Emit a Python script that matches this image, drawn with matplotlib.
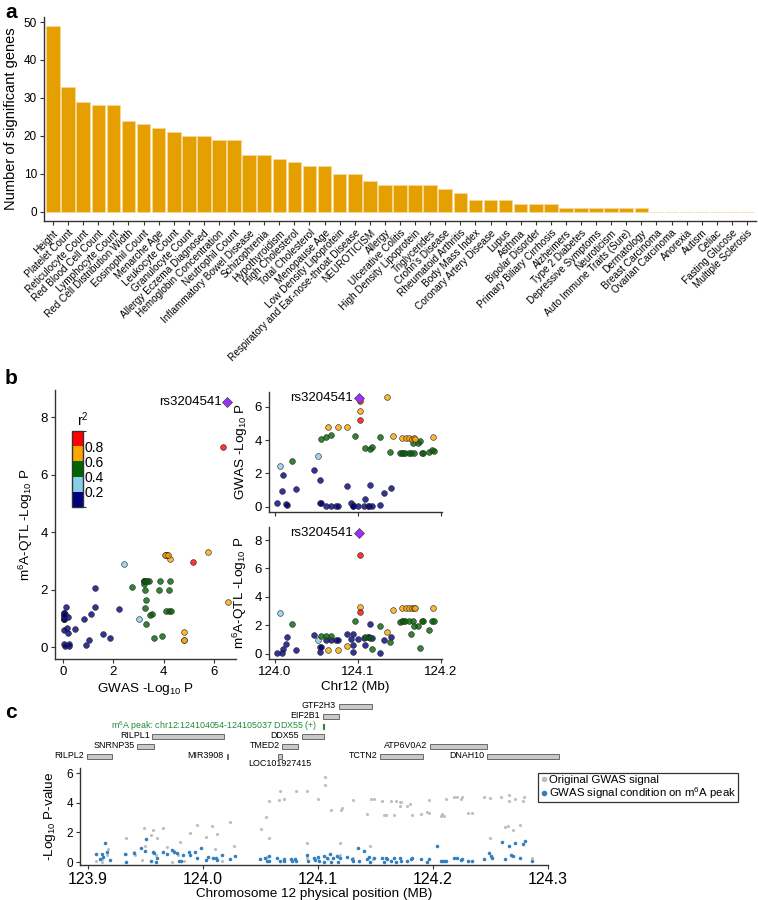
import matplotlib
matplotlib.use('Agg')
import matplotlib.pyplot as plt
import numpy as np
from matplotlib.colors import ListedColormap, BoundaryNorm, to_rgba
from matplotlib.cm import ScalarMappable
from matplotlib.lines import Line2D

plt.rcParams['font.family'] = ['Liberation Sans', 'DejaVu Sans']
plt.rcParams['mathtext.fontset'] = 'custom'
plt.rcParams['mathtext.rm'] = 'Liberation Sans'
plt.rcParams['mathtext.it'] = 'Liberation Sans:italic'
plt.rcParams['mathtext.bf'] = 'Liberation Sans:bold'

# ---- panel a: genes per trait
traits = ['Height', 'Platelet Count', 'Reticulocyte Count', 'Red Blood Cell Count',
          'Lymphocyte Count', 'Red Cell Distribution Width', 'Eosinophil Count',
          'Menarche Age', 'Leukocyte Count', 'Granulocyte Count',
          'Allergy Eczema Diagnosed', 'Hemoglobin Concentration', 'Neutrophil Count',
          'Inflammatory Bowel Disease', 'Schizophrenia', 'Hypothyroidism',
          'High Cholesterol', 'Total Cholesterol', 'Menopause Age',
          'Low Density Lipoprotein', 'Respiratory and Ear-nose-throat Disease',
          'NEUROTICISM', 'Allergy', 'Ulcerative Colitis', 'High Density Lipoprotein',
          'Triglycerides', "Crohn's Disease", 'Rheumatoid Arthritis', 'Body Mass Index',
          'Coronary Artery Disease', 'Lupus', 'Asthma', 'Bipolar Disorder',
          'Primary Biliary Cirrhosis', 'Alzheimers', 'Type 2 Diabetes',
          'Depressive Symptoms', 'Neuroticism', 'Auto Immune Traits (Sure)',
          'Dermatology', 'Breast Carcinoma', 'Ovarian Carcinoma', 'Anorexia', 'Autism',
          'Celiac', 'Fasting Glucose', 'Multiple Sclerosis']
n_genes = [49, 33, 29, 28, 28, 24, 23, 22, 21, 20, 20, 19, 19, 15, 15, 14, 13, 12, 12,
           10, 10, 8, 7, 7, 7, 7, 6, 5, 3, 3, 3, 2, 2, 2, 1, 1, 1, 1, 1, 1,
           0, 0, 0, 0, 0, 0, 0]

# ---- panel b: SNPs around rs3204541 (position Mb, GWAS -log10P, m6A-QTL -log10P, r2 class)
snp_pos = [124.002, 124.006, 124.008, 124.010, 124.013, 124.014, 124.021, 124.025, 124.047,
           124.052, 124.054, 124.054, 124.055, 124.055, 124.061, 124.062, 124.064, 124.067,
           124.067, 124.073, 124.076, 124.076, 124.087, 124.087, 124.092, 124.094, 124.094,
           124.094, 124.096, 124.100, 124.102, 124.102, 124.102, 124.107, 124.108, 124.108,
           124.112, 124.113, 124.115, 124.115, 124.117, 124.117, 124.126, 124.126, 124.131,
           124.135, 124.138, 124.140, 124.142, 124.1506, 124.1526, 124.1526, 124.1546,
           124.1566, 124.1578, 124.1618, 124.1618, 124.1635, 124.1647, 124.166, 124.167,
           124.1675, 124.169, 124.172, 124.175, 124.177, 124.178, 124.185, 124.189, 124.191,
           124.192]
snp_gwas = [0.24, 2.42, 0.92, 1.88, 0.16, 0.08, 2.76, 1.04, 2.22, 3.02, 1.60, 0.24, 0.20,
            4.08, 0.04, 4.20, 4.80, 0.04, 4.30, 0.04, 0.04, 4.80, 4.80, 1.26, 0.20, 0.10,
            0.04, 0.04, 4.26, 0.04, 6.34, 5.76, 5.18, 0.04, 0.48, 3.54, 0.04, 0.04, 1.28,
            3.44, 3.60, 0.04, 4.20, 0.08, 0.84, 6.56, 3.28, 1.10, 4.24, 3.22, 3.22, 4.14,
            3.22, 3.20, 4.10, 4.10, 3.24, 3.24, 4.08, 3.84, 3.24, 4.10, 4.06, 3.80, 3.94,
            3.24, 3.24, 3.30, 3.40, 4.18, 3.32]
snp_qtl = [0.02, 2.89, 0.07, 0.30, 0.66, 1.15, 2.09, 0.26, 1.31, 0.96, 0.45, 0.12, 0.50,
           1.27, 0.96, 1.27, 0.26, 0.96, 1.27, 0.96, 0.96, 0.26, 0.54, 1.38, 1.06, 1.38,
           0.59, 0.12, 2.30, 1.06, 6.95, 3.29, 2.96, 1.13, 0.63, 1.15, 1.20, 1.20, 2.07,
           1.13, 0.30, 1.13, 1.97, 0.02, 0.96, 1.55, 0.80, 1.15, 3.05, 2.20, 2.30, 3.19,
           2.30, 2.30, 3.19, 3.19, 2.30, 1.36, 3.19, 2.30, 1.97, 3.19, 3.19, 1.97, 0.37,
           2.30, 2.30, 1.65, 2.30, 3.19, 2.30]
snp_r2 = [0, 1, 0, 0, 0, 0, 2, 0, 0, 1, 0, 0, 0, 2, 0, 2, 3, 0, 2, 0, 0, 3, 3, 0, 0, 0,
          0, 0, 2, 0, 4, 3, 4, 0, 0, 2, 0, 0, 0, 2, 2, 0, 2, 0, 0, 3, 2, 0, 3, 2, 2, 3,
          2, 2, 3, 3, 2, 2, 3, 2, 2, 3, 3, 2, 2, 2, 2, 2, 2, 3, 2]
lead_name = 'rs3204541'
lead_pos = 124.101
lead_gwas = 6.52
lead_qtl = 8.52
r2_colors = ['#000080', '#87CEEB', '#006400', '#FFA500', '#FF0000']
r2_bounds = [0, 0.2, 0.4, 0.6, 0.8, 1.0]

# ---- panel c: conditional analysis
genes = ['GTF2H3', 'EIF2B1', 'RILPL1', 'DDX55', 'SNRNP35', 'TMED2', 'ATP6V0A2',
         'RILPL2', 'MIR3908', 'TCTN2', 'DNAH10', 'LOC101927415']
gene_start = [124.118, 124.104, 123.956, 124.086, 123.943, 124.069, 124.197,
              123.899, 124.0205, 124.154, 124.247, 124.065]
gene_end = [124.147, 124.118, 124.018, 124.105, 123.957, 124.083, 124.247,
            123.921, 124.0215, 124.191, 124.310, 124.069]
gene_row = [0, 1, 3, 3, 4, 4, 4, 5, 5, 5, 5, 5]
peak_label = 'm$^6$A peak: chr12:124104054-124105037 DDX55 (+)'
peak_start = 124.104054
peak_end = 124.105037

orig_pos = [123.907, 123.912, 123.9125, 123.9166, 123.917, 123.9326, 123.9334, 123.9401,
            123.9407, 123.9465, 123.9488, 123.9497, 123.9544, 123.9561, 123.959, 123.9596,
            123.9654, 123.9683, 123.9727, 123.975, 123.9776, 123.9785, 123.98, 123.9834,
            123.9887, 123.9945, 124.0026, 124.0081, 124.0105, 124.0125, 124.0163, 124.0235,
            124.0273, 124.05, 124.0547, 124.0555, 124.057, 124.0578, 124.0657, 124.0666,
            124.07, 124.0805, 124.09, 124.0904, 124.0904, 124.0997, 124.1, 124.105,
            124.1058, 124.1058, 124.109, 124.1116, 124.117, 124.1189, 124.1195, 124.1198,
            124.1209, 124.13, 124.1305, 124.1398, 124.1427, 124.1451, 124.1465, 124.148,
            124.1485, 124.1558, 124.1573, 124.1587, 124.1631, 124.166, 124.1674, 124.1712,
            124.1712, 124.1724, 124.1776, 124.1797, 124.1814, 124.1898, 124.1951, 124.1965,
            124.1965, 124.2067, 124.2081, 124.2096, 124.211, 124.2183, 124.2212, 124.2241,
            124.2256, 124.23, 124.2343, 124.2445, 124.2497, 124.2497, 124.259, 124.2625,
            124.2648, 124.2657, 124.2657, 124.2692, 124.2715, 124.2759, 124.2779, 124.2794,
            124.286]
orig_y = [0.07, 0.02, 0.20, 0.47, 0.88, 0.52, 1.63, 0.65, 0.47, 0.14, 2.33, 1.08, 1.83,
          2.14, 0.47, 1.65, 2.33, 0.99, 0.02, 0.74, 0.59, 0.47, 1.38, 0.07, 1.94, 2.51,
          1.69, 2.42, 0.88, 1.87, 0.07, 2.73, 1.08, 2.21, 3.02, 0.36, 1.60, 4.09, 4.20,
          4.81, 4.27, 4.81, 0.29, 4.81, 1.26, 4.27, 0.29, 6.46, 5.73, 5.17, 0.20, 3.54,
          0.36, 1.26, 0.50, 3.52, 3.66, 0.29, 4.20, 6.57, 3.25, 1.08, 4.24, 0.20, 4.24,
          4.15, 3.21, 3.21, 4.11, 3.21, 4.11, 4.06, 3.81, 4.06, 3.81, 3.95, 3.21, 3.25,
          3.41, 4.20, 3.30, 3.12, 3.25, 3.12, 4.24, 4.40, 4.40, 4.27, 4.40, 3.30, 3.30,
          4.40, 4.33, 1.60, 4.36, 2.37, 2.42, 4.56, 4.09, 2.17, 4.27, 2.51, 4.11, 4.40,
          0.25]
cond_pos = [123.9067, 123.9108, 123.9125, 123.9131, 123.9148, 123.9169, 123.9195, 123.932,
            123.9334, 123.9401, 123.9459, 123.9494, 123.95, 123.9547, 123.9561, 123.9573,
            123.959, 123.9596, 123.9648, 123.9683, 123.9727, 123.9747, 123.977, 123.9794,
            123.9805, 123.9828, 123.9881, 123.9887, 123.993, 123.9945, 123.9983, 124.0026,
            124.0047, 124.0084, 124.0113, 124.0125, 124.0163, 124.0235, 124.0279, 124.0497,
            124.0541, 124.0555, 124.057, 124.0578, 124.0642, 124.0666, 124.07, 124.0706,
            124.0765, 124.077, 124.0802, 124.0811, 124.0904, 124.091, 124.0962, 124.0977,
            124.0997, 124.1006, 124.105, 124.1055, 124.1078, 124.1108, 124.1113, 124.1131,
            124.1166, 124.1174, 124.1195, 124.1253, 124.1297, 124.1305, 124.1346, 124.1352,
            124.1398, 124.1427, 124.1442, 124.1456, 124.1485, 124.1558, 124.1573, 124.1587,
            124.1602, 124.1637, 124.166, 124.1674, 124.1712, 124.1724, 124.1776, 124.1805,
            124.182, 124.1898, 124.1951, 124.1965, 124.2038, 124.2067, 124.2081, 124.2096,
            124.211, 124.2183, 124.2212, 124.2241, 124.2256, 124.23, 124.2343, 124.2445,
            124.2488, 124.2503, 124.2517, 124.2596, 124.2625, 124.2657, 124.2677, 124.2692,
            124.2715, 124.2759, 124.2779, 124.2799, 124.286]
cond_y = [0.56, 0.20, 0.52, 0.36, 1.26, 0.65, 0.14, 0.52, 0.00, 0.59, 0.93, 0.74, 1.56,
          0.07, 0.65, 0.59, 0.02, 0.29, 0.65, 0.56, 0.81, 0.65, 0.59, 0.07, 0.07, 0.47,
          0.65, 0.47, 0.65, 0.29, 0.93, 0.14, 0.36, 0.25, 0.29, 0.14, 0.47, 0.20, 0.43,
          0.20, 0.25, 0.07, 0.43, 0.07, 0.25, 0.07, 0.18, 0.07, 0.20, 0.07, 0.18, 0.07,
          0.47, 0.07, 0.25, 0.14, 0.36, 0.07, 0.43, 0.02, 0.29, 0.52, 0.02, 0.29, 0.43,
          0.02, 0.25, 0.36, 0.20, 0.07, 0.93, 0.07, 0.74, 0.20, 0.36, 0.02, 0.25, 0.25,
          0.02, 0.25, 0.20, 0.07, 0.25, 0.02, 0.25, 0.07, 0.07, 0.20, 0.25, 0.20, 0.02,
          0.20, 1.08, 0.07, 0.07, 0.07, 0.07, 0.25, 0.25, 0.14, 0.20, 0.07, 0.07, 0.20,
          0.59, 0.43, 0.25, 1.33, 0.20, 1.06, 0.47, 0.43, 1.31, 0.29, 1.22, 1.42, 0.07]

W, H = 758, 900
fig = plt.figure(figsize=(W / 100, H / 100), dpi=100)


def px_axes(x0, y0, x1, y1):
    return fig.add_axes([x0 / W, 1 - y1 / H, (x1 - x0) / W, (y1 - y0) / H])


def gg(ax, size=9):
    for s in ['top', 'right']:
        ax.spines[s].set_visible(False)
    for s in ['left', 'bottom']:
        ax.spines[s].set_color('#333333')
        ax.spines[s].set_linewidth(1.0)
    ax.tick_params(direction='out', length=3, width=0.8, color='#333333',
                   labelcolor='black', labelsize=size, pad=2)


# ---------------- panel a
axA = px_axes(44, 16.5, 756, 221)
gg(axA, 8.5)
axA.bar(np.arange(len(traits)), n_genes, width=0.9, color='#E69F00',
        edgecolor='#F5D99A', linewidth=0.5)
axA.set_xlim(-0.6, len(traits) - 0.4)
axA.set_ylim(-2.45, 51.45)
axA.set_yticks([0, 10, 20, 30, 40, 50])
axA.set_xticks(np.arange(len(traits)))
axA.set_xticklabels(traits, rotation=45, ha='right', rotation_mode='anchor', fontsize=7.2)
axA.set_ylabel('Number of significant genes', fontsize=10.5, labelpad=4)

# ---------------- panel b
pos = np.array(snp_pos)
gw = np.array(snp_gwas)
qt = np.array(snp_qtl)
cls = np.array(snp_r2)


def r2_scatter(ax, x, y):
    for k in range(5):
        m = cls == k
        ax.scatter(x[m], y[m], s=17, facecolor=to_rgba(r2_colors[k], 0.8),
                   edgecolor='#333333', linewidth=0.45, zorder=3)


def lead(ax, x, y):
    ax.scatter([x], [y], marker='D', s=26, facecolor='#9B30FF', edgecolor='#444444',
               linewidth=0.5, zorder=4)
    ax.annotate(lead_name, (x, y), xytext=(-4, 0), textcoords='offset points',
                ha='right', va='center', fontsize=9.5)


axL = px_axes(54.7, 389.7, 236.4, 659.4)
gg(axL, 9.5)
r2_scatter(axL, gw, qt)
lead(axL, lead_gwas, lead_qtl)
axL.set_xlim(-0.33, 6.89)
axL.set_ylim(-0.43, 8.95)
axL.set_xticks([0, 2, 4, 6])
axL.set_yticks([0, 2, 4, 6, 8])
axL.set_xlabel('GWAS -Log$_{10}$ P', fontsize=9.7, labelpad=2)
axL.set_ylabel('m$^6$A-QTL -Log$_{10}$ P', fontsize=9.7, labelpad=4)

cax = px_axes(72, 431, 83, 507)
sm = ScalarMappable(norm=BoundaryNorm(r2_bounds, 5), cmap=ListedColormap(r2_colors))
cb = fig.colorbar(sm, cax=cax, ticks=[0.2, 0.4, 0.6, 0.8])
cb.outline.set_edgecolor('#333333')
cb.outline.set_linewidth(1.0)
cax.tick_params(length=0, labelsize=10, pad=1)
cax.text(1.0, 1.03, 'r$^2$', transform=cax.transAxes, ha='center', va='bottom',
         fontsize=10)

axT = px_axes(268.8, 391.7, 442.2, 511.5)
gg(axT, 9.5)
r2_scatter(axT, pos, gw)
lead(axT, lead_pos, lead_gwas)
axT.set_xlim(123.9925, 124.2015)
axT.set_ylim(-0.29, 6.9)
axT.set_xticks([124.0, 124.1, 124.2])
axT.set_xticklabels([])
axT.set_yticks([0, 2, 4, 6])
axT.set_ylabel('GWAS -Log$_{10}$ P', fontsize=9.7, labelpad=4)

axB = px_axes(268.8, 526.6, 442.2, 659.4)
gg(axB, 9.5)
r2_scatter(axB, pos, qt)
lead(axB, lead_pos, lead_qtl)
axB.set_xlim(123.9925, 124.2015)
axB.set_ylim(-0.4, 8.95)
axB.set_xticks([124.0, 124.1, 124.2])
axB.set_xticklabels(['124.0', '124.1', '124.2'])
axB.set_yticks([0, 2, 4, 6, 8])
axB.set_xlabel('Chr12 (Mb)', fontsize=9.7, labelpad=2)
axB.set_ylabel('m$^6$A-QTL -Log$_{10}$ P', fontsize=9.7, labelpad=4)

# ---------------- panel c
# gene track: rows 10 px apart, first row at y = 706 px
axG = px_axes(80, 703, 548, 768)
axG.set_xlim(123.893, 124.3)
axG.set_ylim(6.2, -0.3)
axG.axis('off')
gene_fs = 6.4
for name, s, e, r in zip(genes, gene_start, gene_end, gene_row):
    axG.barh(r, e - s, left=s, height=0.5, color='#C8C8C8', edgecolor='#555555',
             linewidth=0.6, clip_on=False)
    if name == 'LOC101927415':
        axG.text((s + e) / 2, r + 0.8, name, ha='center', va='center', fontsize=gene_fs,
                 clip_on=False)
    else:
        axG.annotate(name, (s, r), xytext=(-2, 0), textcoords='offset points',
                     ha='right', va='center', fontsize=gene_fs, annotation_clip=False)
axG.barh(2, peak_end - peak_start, left=peak_start, height=0.5, color='#1E8B3A',
         edgecolor='#1E8B3A', linewidth=0.8, clip_on=False)
axG.annotate(peak_label, (peak_start, 2), xytext=(-4, 0), textcoords='offset points',
             ha='right', va='center', fontsize=gene_fs, color='#1E8B3A',
             annotation_clip=False)

axC = px_axes(80, 768, 548, 865)
gg(axC, 8.5)
axC.scatter(orig_pos, orig_y, s=5, color='#BEBEBE', linewidth=0, zorder=2)
axC.scatter(cond_pos, cond_y, s=6.5, color='#2F7FC1', linewidth=0, zorder=3)
axC.set_xlim(123.893, 124.3)
axC.set_ylim(-0.2, 6.35)
axC.set_yticks([0, 2, 4, 6])
axC.set_xticks([123.9, 124.0, 124.1, 124.2, 124.3])
axC.set_xticklabels(['123.9', '124.0', '124.1', '124.2', '124.3'])
axC.tick_params(axis='x', labelsize=11.5)
axC.set_xlabel('Chromosome 12 physical position (MB)', fontsize=9.7, labelpad=1)
axC.set_ylabel('-Log$_{10}$ P-value', fontsize=9.7, labelpad=6)

handles = [Line2D([], [], marker='o', ls='', ms=3, color='#BEBEBE'),
           Line2D([], [], marker='o', ls='', ms=3, color='#2F7FC1')]
leg = fig.legend(handles, ['Original GWAS signal', 'GWAS signal condition on m$^6$A peak'],
                 loc='upper left', bbox_to_anchor=(538 / W, 1 - 773 / H), fontsize=8.2,
                 frameon=True, fancybox=False, edgecolor='black', borderpad=0.15,
                 labelspacing=0.0, handletextpad=0.1, handlelength=0.7,
                 borderaxespad=0)
leg.get_frame().set_linewidth(0.9)

# panel letters
for letter, y in [('a', 12), ('b', 379), ('c', 712)]:
    fig.text(5 / W, 1 - y / H, letter, fontsize=15, fontweight='bold', va='center')

fig.savefig('out.png', dpi=100)
